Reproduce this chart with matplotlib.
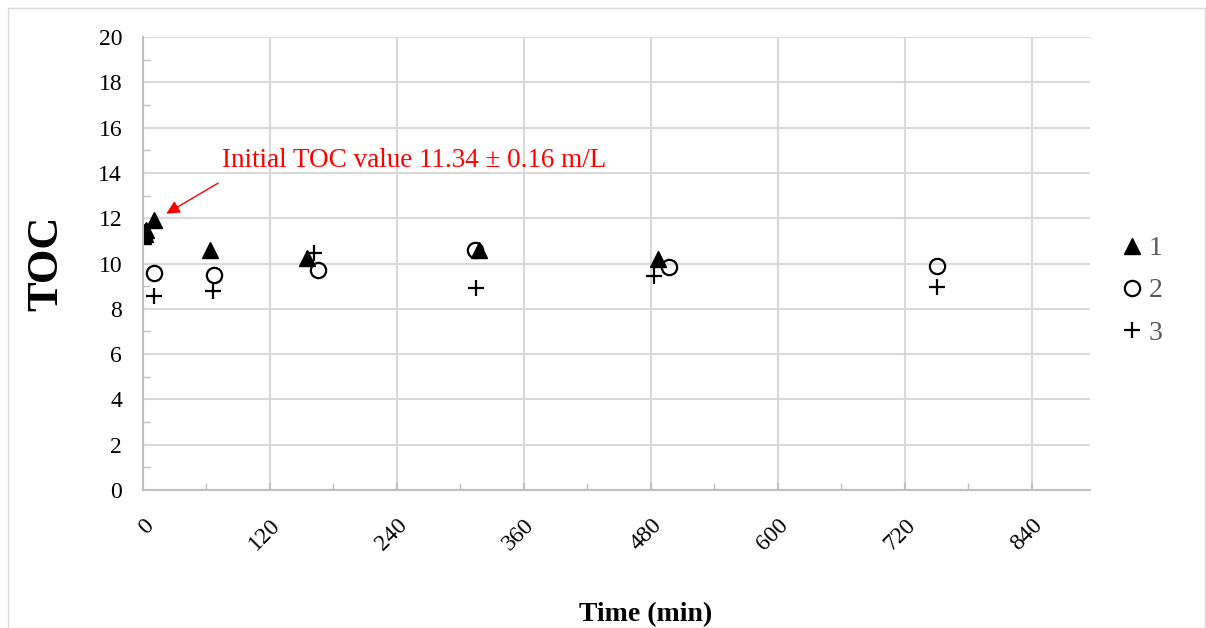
import matplotlib.pyplot as plt
from matplotlib.patches import Rectangle
from matplotlib.ticker import MultipleLocator

plt.rcParams['font.family'] = ['Liberation Serif', 'DejaVu Serif']

# series 1 (filled triangles)
t1 = [0, 1, 2, 3, 10, 63, 155, 318, 487]
toc1 = [11.2, 11.4, 11.3, 11.5, 11.9, 10.6, 10.25, 10.6, 10.2]
# series 2 (open circles)
t2 = [10, 67, 165, 314, 497, 750]
toc2 = [9.6, 9.5, 9.7, 10.6, 9.85, 9.9]
# series 3 (plus)
t3 = [10, 66, 162, 315, 483, 750]
toc3 = [8.55, 8.8, 10.45, 8.9, 9.45, 8.95]

xticks = [0, 120, 240, 360, 480, 600, 720, 840]

fig = plt.figure(figsize=(12.06, 6.28), dpi=100)
fig.patches.append(Rectangle((8/1206, 0), 1 - 8/1206 - 0.001, 1 - 8/628,
                             transform=fig.transFigure, fill=False,
                             edgecolor='#d9d9d9', linewidth=1))
ax = fig.add_axes([143/1206, 1 - 490/628, (1090 - 143)/1206, (490 - 37)/628])

ax.plot(t1, toc1, '^', color='black', markersize=11, linestyle='none', label='1')
ax.plot(t2, toc2, 'o', markerfacecolor='none', markeredgecolor='black',
        markeredgewidth=1.6, markersize=11, linestyle='none', label='2')
ax.plot(t3, toc3, '+', color='black', markeredgewidth=1.6, markersize=11,
        linestyle='none', label='3')

ax.set_xlim(0, 895)
ax.set_ylim(0, 20)
ax.set_xticks(xticks)
ax.xaxis.set_minor_locator(MultipleLocator(60))
ax.yaxis.set_major_locator(MultipleLocator(2))
ax.yaxis.set_minor_locator(MultipleLocator(1))
ax.grid(True, which='major', color='#d9d9d9', linewidth=1.5)
ax.set_axisbelow(True)
for s in ['top', 'right']:
    ax.spines[s].set_visible(False)
for s in ['left', 'bottom']:
    ax.spines[s].set_color('#bfbfbf')
    ax.spines[s].set_linewidth(1.5)
ax.tick_params(which='both', direction='in', color='#bfbfbf', labelsize=17)
ax.tick_params(which='major', length=5, width=1.5)
ax.tick_params(which='minor', length=5, width=1)
ax.tick_params(axis='y', which='major', length=0, pad=15)
plt.setp(ax.get_xticklabels(), rotation=45, ha='right', va='top',
         rotation_mode='anchor')
ax.tick_params(axis='x', pad=18)

ax.set_ylabel('TOC', fontsize=32, fontweight='bold')
ax.yaxis.set_label_coords(-(143 - 66)/947, 0.5)
ax.set_xlabel('Time (min)', fontsize=20, fontweight='bold')
ax.xaxis.set_label_coords((646 - 143)/947, -(602 - 490)/453)

ax.annotate('', xy=(22, 12.2), xytext=(71, 13.55),
            arrowprops=dict(arrowstyle='-|>', color='red', lw=1,
                            mutation_scale=20, shrinkA=0, shrinkB=0))
ax.text(75, 14.55, 'Initial TOC value 11.34 \u00b1 0.16 m/L', color='red',
        fontsize=19.5, va='center', ha='left')

leg = ax.legend(loc='center left', bbox_to_anchor=(1.024, 0.44), frameon=False,
                fontsize=20, handlelength=0.6, handletextpad=0.3,
                labelspacing=0.6, borderaxespad=0)
for txt in leg.get_texts():
    txt.set_color('#595959')

fig.savefig('out.png', dpi=100)
